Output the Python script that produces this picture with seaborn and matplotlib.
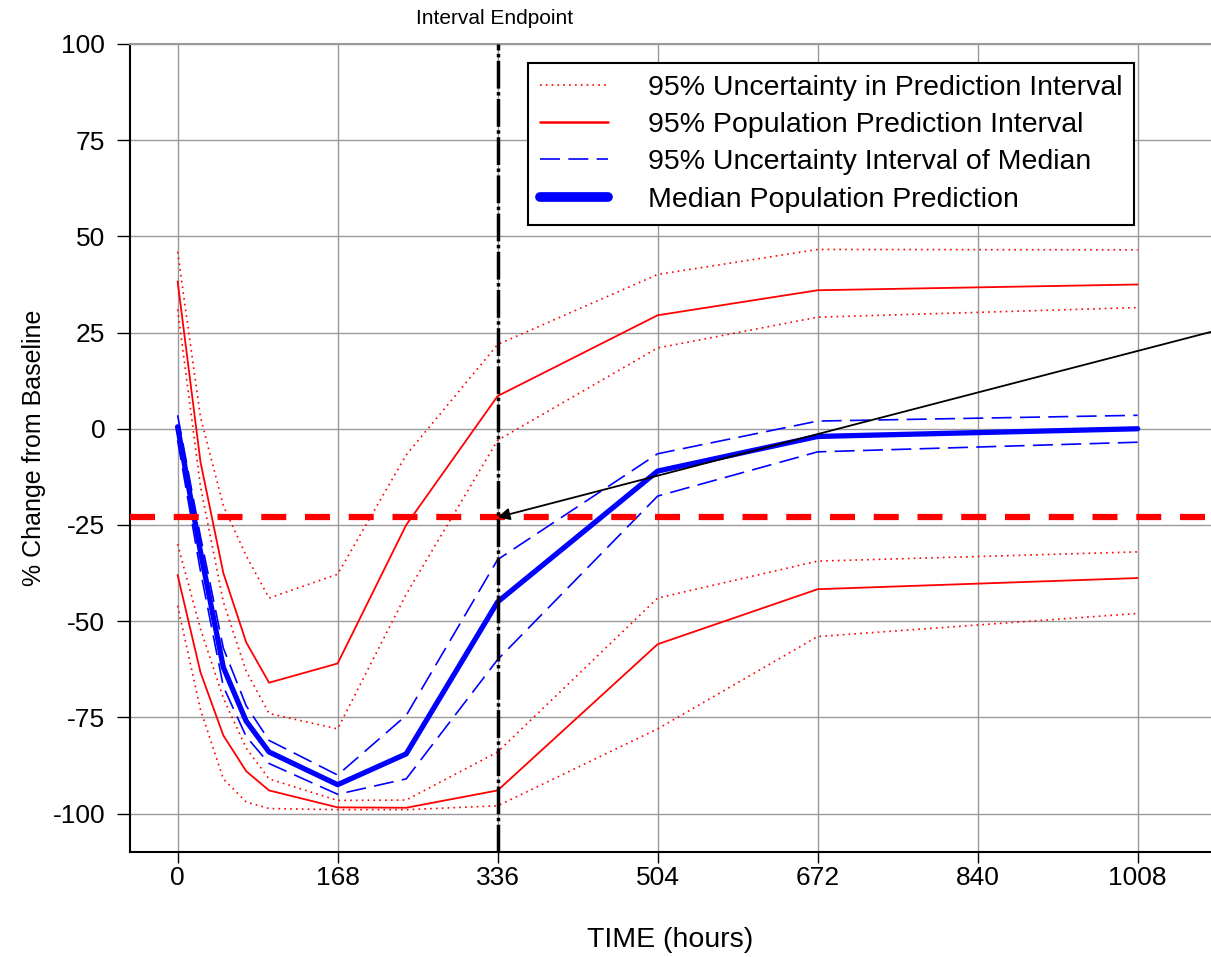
import numpy as np
import pandas as pd
import matplotlib
matplotlib.use("Agg")
import matplotlib.pyplot as plt
import seaborn as sns
from matplotlib.lines import Line2D

sns.set_theme(style="ticks")
plt.rcParams['font.family'] = ['Liberation Sans', 'DejaVu Sans']
plt.rcParams['axes.unicode_minus'] = False
plt.rcParams.update({'text.color': 'black', 'axes.labelcolor': 'black',
                     'xtick.color': 'black', 'ytick.color': 'black'})

# time points (hours)
time_h = [0, 24, 48, 72, 96, 168, 240, 336, 504, 672, 1008]

# median population prediction and its 95% uncertainty interval
median = [0.5, -32, -62, -76, -84, -92.5, -84.5, -45, -11, -2, 0]
median_hi = [3.5, -28, -57, -72, -81, -90, -74.5, -34, -6.5, 2, 3.5]
median_lo = [-3, -37, -67, -80, -87, -95, -91, -60, -17.5, -6, -3.5]

# 95% population prediction interval
pi_hi = [38.3, -8.6, -37.5, -55.5, -66, -61, -25, 8.5, 29.5, 36, 37.5]
pi_lo = [-38, -63.3, -79.7, -89, -94, -98.4, -98.5, -94, -56, -41.7, -38.8]

# uncertainty of the prediction interval bounds
pi_hi_up = [46, 3, -20, -33, -44, -37.8, -6.8, 21.9, 40.1, 46.6, 46.5]
pi_hi_dn = [31, -15, -45, -63, -74, -78, -43, -3, 21, 29, 31.5]
pi_lo_up = [-30, -52, -70, -83, -91, -96.6, -96.5, -84, -44, -34.4, -32]
pi_lo_dn = [-46, -73, -91, -97, -98.7, -99, -99, -98, -78, -54, -48]

x_ticks = [0, 168, 336, 504, 672, 840, 1008]
y_ticks = [-100, -75, -50, -25, 0, 25, 50, 75, 100]
threshold = -23
endpoint = 336

df = pd.DataFrame({
    "time": time_h, "median": median, "median_hi": median_hi, "median_lo": median_lo,
    "pi_hi": pi_hi, "pi_lo": pi_lo, "pi_hi_up": pi_hi_up, "pi_hi_dn": pi_hi_dn,
    "pi_lo_up": pi_lo_up, "pi_lo_dn": pi_lo_dn,
})

fig = plt.figure(figsize=(12.11, 9.57), dpi=100)
ax = fig.add_axes([130 / 1211, 1 - 852 / 957, 1081 / 1211, 808 / 957])

dotted = (0, (1, 2.5))
dashed = (0, (12, 5))
for col in ["pi_hi_up", "pi_hi_dn", "pi_lo_up", "pi_lo_dn"]:
    sns.lineplot(data=df, x="time", y=col, ax=ax, color="red", lw=1.2, linestyle=dotted)
for col in ["pi_hi", "pi_lo"]:
    sns.lineplot(data=df, x="time", y=col, ax=ax, color="red", lw=1.3)
for col in ["median_hi", "median_lo"]:
    sns.lineplot(data=df, x="time", y=col, ax=ax, color="blue", lw=1.2, linestyle=dashed)
sns.lineplot(data=df, x="time", y="median", ax=ax, color="blue", lw=3.8)

ax.axhline(threshold, color="red", lw=4.5, linestyle=(0, (4, 3)), zorder=5)
ax.axvline(endpoint, color="black", lw=2.5, linestyle=(0, (8, 1, 1, 1)), zorder=6)
ax.text(endpoint - 3, 1.032, "Interval Endpoint", transform=ax.get_xaxis_transform(),
        ha="center", va="center", fontsize=15)
ax.annotate("", xy=(endpoint, threshold), xytext=(1090, 25.5),
            arrowprops=dict(arrowstyle="-|>", color="black", lw=1.3, mutation_scale=18,
                            shrinkA=0, shrinkB=0),
            annotation_clip=False, zorder=7)

ax.set_xlim(-50, 1085)
ax.set_ylim(-110, 100)
ax.set_xticks(x_ticks)
ax.set_yticks(y_ticks)
ax.grid(True, color="#9a9a9a", lw=1)
ax.tick_params(labelsize=19, width=1, color="black", direction="out")
ax.tick_params(axis="x", length=8, pad=2)
ax.tick_params(axis="y", length=9.4, pad=8.5)
ax.set_xlabel("TIME (hours)", fontsize=20.5, labelpad=27)
ax.set_ylabel("% Change from Baseline", fontsize=18, labelpad=5)
for s in ["left", "bottom"]:
    ax.spines[s].set_color("black")
    ax.spines[s].set_linewidth(1.5)
ax.spines["right"].set_visible(False)
ax.spines["top"].set_color("#9a9a9a")
ax.spines["top"].set_linewidth(1.5)

handles = [
    Line2D([], [], color="red", lw=1.2, linestyle=dotted),
    Line2D([], [], color="red", lw=1.8),
    Line2D([], [], color="blue", lw=1.2, linestyle=dashed),
    Line2D([], [], color="blue", lw=7, solid_capstyle="round"),
]
labels = ["95% Uncertainty in Prediction Interval", "95% Population Prediction Interval",
          "95% Uncertainty Interval of Median", "Median Population Prediction"]
leg = ax.legend(handles, labels, loc="upper left", bbox_to_anchor=(0.368, 0.977),
                borderaxespad=0, fontsize=20.5, handlelength=2.4, handletextpad=1.4,
                labelspacing=0.4, borderpad=0.42, fancybox=False, framealpha=1,
                edgecolor="black")
leg.get_frame().set_linewidth(1.5)
leg.set_zorder(10)

fig.savefig("out.png", dpi=100)
